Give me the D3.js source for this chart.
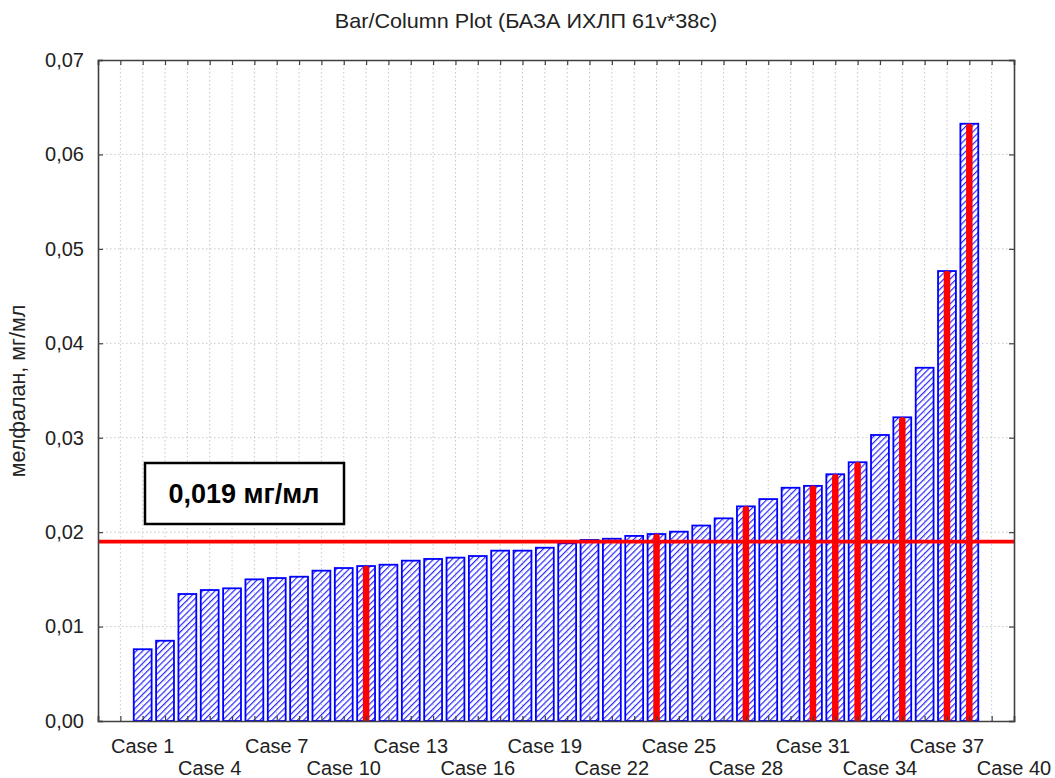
<!DOCTYPE html>
<html>
<head>
<meta charset="utf-8">
<script src="https://cdn.jsdelivr.net/npm/d3@7"></script>
<style>
	body { margin: 0; background: #fff; }
	text { font-family: "Liberation Sans", Arial, sans-serif; }
</style>
</head>
<body>
<div id="container"></div>
<script>
var title = "Bar/Column Plot (БАЗА ИХЛП 61v*38c)";
var yLabel = "мелфалан, мг/мл";
var noteText = "0,019 мг/мл";

// cases 1..38 (values), axis runs to Case 40
var values = [0.0076, 0.0085, 0.01345, 0.01387, 0.01405, 0.0150, 0.01514, 0.01528, 0.01592, 0.0162,
	0.01641, 0.01655, 0.01698, 0.01716, 0.0173, 0.01747, 0.01804, 0.01804, 0.01835, 0.01882,
	0.01917, 0.0193, 0.0196, 0.0198, 0.02005, 0.0207, 0.02146, 0.02273, 0.0235, 0.0247,
	0.0249, 0.02613, 0.0274, 0.03029, 0.03216, 0.03741, 0.04765, 0.06325];
var marked = [11, 24, 28, 31, 32, 33, 35, 37, 38];
var threshold = 0.019;
var xTickLabels = ["Case 1", "Case 4", "Case 7", "Case 10", "Case 13", "Case 16", "Case 19",
	"Case 22", "Case 25", "Case 28", "Case 31", "Case 34", "Case 37", "Case 40"];
var yTicks = [0, 0.01, 0.02, 0.03, 0.04, 0.05, 0.06, 0.07];

var W = 1055, H = 778;
var margin = {top: 60, right: 41, bottom: 57, left: 98},
	width = W - margin.left - margin.right,
	height = H - margin.top - margin.bottom;

var data = values.map(function(v, i) { return {c: i + 1, v: v}; });

var svg = d3.select("#container").append("svg")
	.attr("width", W)
	.attr("height", H);

var defs = svg.append("defs");
defs.append("pattern")
	.attr("id", "hatch")
	.attr("patternUnits", "userSpaceOnUse")
	.attr("width", 4.4).attr("height", 4.4)
	.attr("patternTransform", "rotate(45)")
	.append("line")
	.attr("x1", 0).attr("y1", 0).attr("x2", 0).attr("y2", 4.4)
	.attr("stroke", "#2a2aff")
	.attr("stroke-width", 2.4);
defs.append("clipPath").attr("id", "clip")
	.append("rect").attr("width", width).attr("height", height);

var plot = svg.append("g")
	.attr("transform", "translate(" + margin.left + "," + margin.top + ")");

// scales
var x = d3.scaleLinear().domain([-1, 40]).range([0, width]);
var y = d3.scaleLinear().domain([0, 0.07]).range([height, 0]);
var bw = (x(1) - x(0)) * 0.8;

// grid
plot.append("g").selectAll("line")
	.data(d3.range(0, 40))
	.join("line")
	.attr("x1", function(d) { return x(d); }).attr("x2", function(d) { return x(d); })
	.attr("y1", 0).attr("y2", height)
	.attr("stroke", "#c8c8c8").attr("stroke-dasharray", "1.5,2.5");
plot.append("g").selectAll("line")
	.data(yTicks.slice(1, -1))
	.join("line")
	.attr("x1", 0).attr("x2", width)
	.attr("y1", function(d) { return y(d); }).attr("y2", function(d) { return y(d); })
	.attr("stroke", "#c8c8c8").attr("stroke-dasharray", "1.5,2.5");

// bars
plot.append("g").selectAll("rect")
	.data(data)
	.join("rect")
	.attr("x", function(d) { return x(d.c) - bw / 2; })
	.attr("y", function(d) { return y(d.v); })
	.attr("width", bw)
	.attr("height", function(d) { return height - y(d.v); })
	.attr("fill", "url(#hatch)")
	.attr("stroke", "#0000ff")
	.attr("stroke-width", 1.8);

// red markers
var red = plot.append("g").attr("clip-path", "url(#clip)");
red.selectAll("line")
	.data(data.filter(function(d) { return marked.indexOf(d.c) >= 0; }))
	.join("line")
	.attr("x1", function(d) { return x(d.c); }).attr("x2", function(d) { return x(d.c); })
	.attr("y1", height + 5)
	.attr("y2", function(d) { return y(d.v) + 3; })
	.attr("stroke", "#ff0000")
	.attr("stroke-width", 6.5)
	.attr("stroke-linecap", "round");
red.append("line")
	.attr("x1", 0).attr("x2", width)
	.attr("y1", y(threshold)).attr("y2", y(threshold))
	.attr("stroke", "#ff0000")
	.attr("stroke-width", 3.6);

// axes (ticks inward, mirrored)
var fmt = function(d) { return d3.format(".2f")(d).replace(".", ","); };
var yAxis = plot.append("g")
	.call(d3.axisLeft(y).tickValues(yTicks).tickSize(-5).tickPadding(14).tickFormat(fmt));
plot.append("g")
	.attr("transform", "translate(" + width + ",0)")
	.call(d3.axisRight(y).tickValues(yTicks).tickSize(-5).tickFormat(""));
plot.append("g")
	.attr("transform", "translate(0," + height + ")")
	.call(d3.axisBottom(x).tickValues(d3.range(-1, 41)).tickSize(-5).tickFormat(""));
plot.append("g")
	.call(d3.axisTop(x).tickValues(d3.range(-1, 41)).tickSize(-5).tickFormat(""));
plot.selectAll(".domain").attr("stroke", "#404040").attr("stroke-width", 1.6);
plot.selectAll(".tick line").attr("stroke", "#404040").attr("stroke-width", 1.2);
yAxis.selectAll("text")
	.attr("font-size", 20)
	.attr("fill", "#222")
	.attr("font-family", "Liberation Sans, Arial, sans-serif");

// x labels, two staggered rows
plot.append("g").selectAll("text")
	.data(xTickLabels)
	.join("text")
	.attr("x", function(d) { return x(+d.split(" ")[1]); })
	.attr("y", function(d, i) { return height + (i % 2 ? 54 : 32); })
	.attr("text-anchor", "middle")
	.attr("font-size", 20)
	.attr("fill", "#222")
	.text(function(d) { return d; });

// title + y label
svg.append("text")
	.attr("transform", "translate(526,28) scale(1.08,1)")
	.attr("text-anchor", "middle")
	.attr("font-size", 20)
	.attr("fill", "#222")
	.text(title);
svg.append("text")
	.attr("transform", "translate(25,391) rotate(-90)")
	.attr("text-anchor", "middle")
	.attr("font-size", 21.5)
	.attr("fill", "#222")
	.text(yLabel);

// annotation box
svg.append("rect")
	.attr("x", 145).attr("y", 463).attr("width", 199).attr("height", 61)
	.attr("fill", "#fff").attr("stroke", "#000").attr("stroke-width", 2.5);
svg.append("text")
	.attr("x", 244).attr("y", 503)
	.attr("text-anchor", "middle")
	.attr("font-family", "Open Sans, sans-serif")
	.attr("font-weight", "bold")
	.attr("font-size", 27)
	.attr("fill", "#000")
	.text(noteText);
</script>
</body>
</html>
